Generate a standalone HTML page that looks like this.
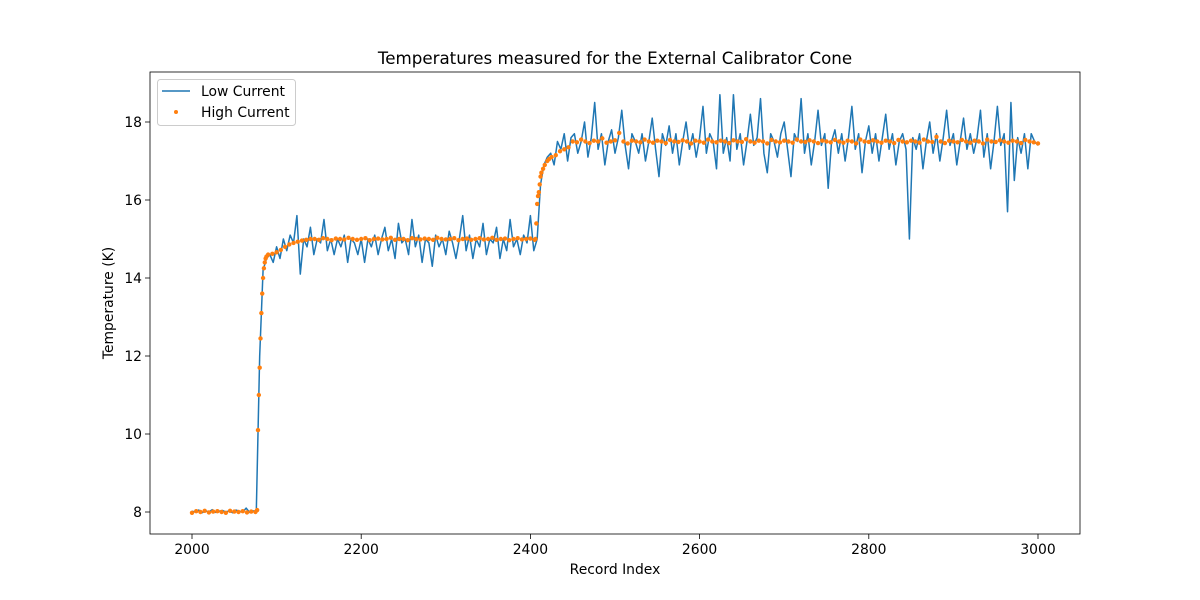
<!DOCTYPE html>
<html><head><meta charset="utf-8">
<style>
html,body{margin:0;padding:0;background:#fff;}
svg{display:block;font-family:"DejaVu Sans","Liberation Sans",sans-serif;}
</style></head>
<body>
<svg id="chart" width="1200" height="600" viewBox="0 0 1200 600">
<rect x="0" y="0" width="1200" height="600" fill="#fff"/>
<text x="615" y="64" text-anchor="middle" font-size="16.7" fill="#000">Temperatures measured for the External Calibrator Cone</text>
<g id="plot"></g>
<g id="axes"></g>
<text x="615" y="574" text-anchor="middle" font-size="13.9">Record Index</text>
<text transform="translate(113,303) rotate(-90)" text-anchor="middle" font-size="13.9">Temperature (K)</text>
<g>
<rect x="157.5" y="79.5" width="138" height="46" rx="3" fill="#fff" fill-opacity="0.8" stroke="#ccc"/>
<line x1="162" y1="91" x2="190" y2="91" stroke="#1f77b4" stroke-width="1.5"/>
<text x="201" y="96" font-size="13.9">Low Current</text>
<circle cx="176" cy="112" r="2" fill="#ff7f0e"/>
<text x="201" y="117" font-size="13.9">High Current</text>
</g>
</svg>
<script>
const lowStart = 2000;
const lowStep = 4;
const lowValues = [
8.02,8.0,8.05,7.98,8.03,8.0,8.06,7.99,8.02,8.04,8.0,8.03,7.98,8.05,8.02,8.0,8.1,7.99,8.03,8.02,
12.0,14.2,14.5,14.6,14.4,14.8,
14.5,15.0,14.7,15.1,14.9,15.6,14.1,15.0,14.8,15.3,14.6,15.0,14.9,15.5,14.7,15.0,14.6,15.0,14.8,15.1,
14.4,15.0,14.9,14.6,15.0,14.4,15.0,14.8,15.1,14.6,15.0,15.3,14.7,15.0,14.5,15.4,14.9,15.0,14.6,15.5,
14.8,15.1,14.4,15.0,14.9,14.3,15.1,14.8,15.0,14.6,15.2,14.9,14.5,15.0,15.6,14.7,15.1,14.5,15.0,14.8,
15.4,14.6,15.0,14.9,15.3,14.5,15.0,14.7,15.5,14.8,15.0,14.6,15.1,14.9,15.6,14.7,15.0,
16.4,16.9,17.1,17.2,16.9,17.5,17.3,17.7,17.0,17.6,
17.7,17.2,17.5,18.0,17.1,17.6,18.5,17.3,17.7,16.9,17.5,17.8,17.2,17.6,18.3,17.4,16.8,17.7,17.5,17.2,
17.7,17.0,17.5,18.1,17.3,16.6,17.7,17.4,17.9,17.2,17.7,16.9,17.5,18.0,17.3,17.7,17.1,17.6,18.4,17.2,
17.7,17.5,16.8,18.7,17.2,17.6,17.0,18.7,17.3,17.7,16.9,17.5,18.2,17.4,17.6,18.6,17.2,16.7,17.7,17.5,
17.1,17.7,18.0,17.3,16.6,17.7,17.5,18.6,17.2,17.7,16.9,17.5,18.3,17.4,17.7,16.3,17.5,17.8,17.2,17.7,
17.0,17.6,18.4,17.3,17.7,16.7,17.5,17.9,17.2,17.7,17.0,17.6,18.2,17.3,17.7,16.9,17.5,17.7,17.3,15.0,
17.6,17.3,17.7,16.8,17.5,18.0,17.2,17.7,17.0,17.6,18.3,17.4,17.7,16.9,17.5,18.1,17.3,17.7,17.2,17.6,
18.3,17.1,17.7,16.8,17.5,18.4,17.4,17.7,15.7,18.5,16.5,17.6,17.2,17.7,16.8,17.7,17.5,17.4
];
const highStart = 2000;
const highStep = 5;
const highValues = [
7.98,8.02,8.0,8.03,7.99,8.01,8.02,8.0,7.98,8.03,8.01,8.0,8.02,7.99,8.01,8.0,
11.7,14.25,14.6,14.62,14.66,14.72,14.8,14.86,14.9,14.93,14.96,14.98,15.0,
15.0,14.98,15.02,15.0,14.97,15.01,15.0,14.99,15.03,15.0,14.98,15.0,15.02,14.97,15.0,15.01,14.99,15.0,15.03,14.98,
15.0,15.0,14.97,15.02,15.0,14.99,15.01,15.0,14.98,15.03,15.0,14.99,15.0,15.02,14.97,15.0,15.01,14.98,15.0,15.02,
14.99,15.0,15.03,14.98,15.0,15.01,14.97,15.0,15.02,14.99,15.0,15.01,14.98,
16.2,16.8,17.0,17.1,17.15,17.25,17.3,17.35,
17.5,17.48,17.55,17.5,17.46,17.52,17.5,17.58,17.47,17.5,
17.53,17.72,17.5,17.45,17.52,17.5,17.48,17.55,17.5,17.47,
17.52,17.5,17.46,17.54,17.5,17.49,17.53,17.5,17.45,17.52,
17.5,17.47,17.55,17.5,17.48,17.52,17.5,17.46,17.53,17.5,
17.49,17.56,17.5,17.47,17.52,17.5,17.45,17.54,17.5,17.48,
17.52,17.5,17.47,17.55,17.5,17.49,17.53,17.5,17.46,17.52,
17.5,17.48,17.54,17.5,17.47,17.52,17.5,17.45,17.55,17.5,
17.49,17.53,17.5,17.47,17.52,17.5,17.46,17.54,17.5,17.48,
17.52,17.5,17.47,17.55,17.5,17.49,17.62,17.5,17.46,17.52,
17.5,17.48,17.54,17.5,17.47,17.52,17.5,17.45,17.55,17.5,
17.49,17.53,17.5,17.47,17.52,17.5,17.46,17.54,17.5,17.48,
17.45
];
const rampX = [2077,2078,2079,2081,2082,2083,2084,2086,2087,2088,2406,2407,2408,2409,2411,2412,2413,2417,2422];
const rampY = [8.05,10.1,11.0,12.45,13.1,13.6,14.0,14.4,14.5,14.55,15.0,15.4,15.9,16.1,16.4,16.6,16.7,16.9,17.05];
const xTicks = [2000,2200,2400,2600,2800,3000];
const yTicks = [8,10,12,14,16,18];

const L=150,R=1080,T=72,B=534;
const xMin=1950.35,xMax=3049.65,yMin=7.436,yMax=19.282;
function sx(v){return L+(v-xMin)/(xMax-xMin)*(R-L);}
function sy(v){return B-(v-yMin)/(yMax-yMin)*(B-T);}
const NS='http://www.w3.org/2000/svg';
const plot=document.getElementById('plot');
const axes=document.getElementById('axes');

let d='';
lowValues.forEach((v,i)=>{d+=(i?'L':'M')+sx(lowStart+i*lowStep).toFixed(2)+','+sy(v).toFixed(2);});
const path=document.createElementNS(NS,'path');
path.setAttribute('d',d);path.setAttribute('fill','none');path.setAttribute('stroke','#1f77b4');path.setAttribute('stroke-width','1.5');path.setAttribute('stroke-linejoin','round');


plot.appendChild(path);

function dot(x,y){
  const c=document.createElementNS(NS,'circle');
  c.setAttribute('cx',sx(x).toFixed(2));c.setAttribute('cy',sy(y).toFixed(2));c.setAttribute('r','2.2');c.setAttribute('fill','#ff7f0e');
  
  
  plot.appendChild(c);
}
highValues.forEach((v,i)=>dot(highStart+i*highStep,v));
rampX.forEach((x,i)=>dot(x,rampY[i]));

const frame=document.createElementNS(NS,'rect');
frame.setAttribute('x',L);frame.setAttribute('y',T);frame.setAttribute('width',R-L);frame.setAttribute('height',B-T);
frame.setAttribute('fill','none');frame.setAttribute('stroke','#000');frame.setAttribute('stroke-width','0.8');


axes.appendChild(frame);

xTicks.forEach(t=>{
  const x=sx(t);
  const ln=document.createElementNS(NS,'line');
  ln.setAttribute('x1',x);ln.setAttribute('x2',x);ln.setAttribute('y1',B);ln.setAttribute('y2',B+5);ln.setAttribute('stroke','#000');ln.setAttribute('stroke-width','0.8');
  
  
  axes.appendChild(ln);
  const tx=document.createElementNS(NS,'text');
  tx.setAttribute('x',x);tx.setAttribute('y',B+20);tx.setAttribute('text-anchor','middle');tx.setAttribute('font-size','13.9');
  tx.textContent=t;
  
  
  axes.appendChild(tx);
});
yTicks.forEach(t=>{
  const y=sy(t);
  const ln=document.createElementNS(NS,'line');
  ln.setAttribute('x1',L-5);ln.setAttribute('x2',L);ln.setAttribute('y1',y);ln.setAttribute('y2',y);ln.setAttribute('stroke','#000');ln.setAttribute('stroke-width','0.8');
  
  
  axes.appendChild(ln);
  const tx=document.createElementNS(NS,'text');
  tx.setAttribute('x',L-8);tx.setAttribute('y',y+5);tx.setAttribute('text-anchor','end');tx.setAttribute('font-size','13.9');
  tx.textContent=t;
  
  
  axes.appendChild(tx);
});
</script>
</body></html>
